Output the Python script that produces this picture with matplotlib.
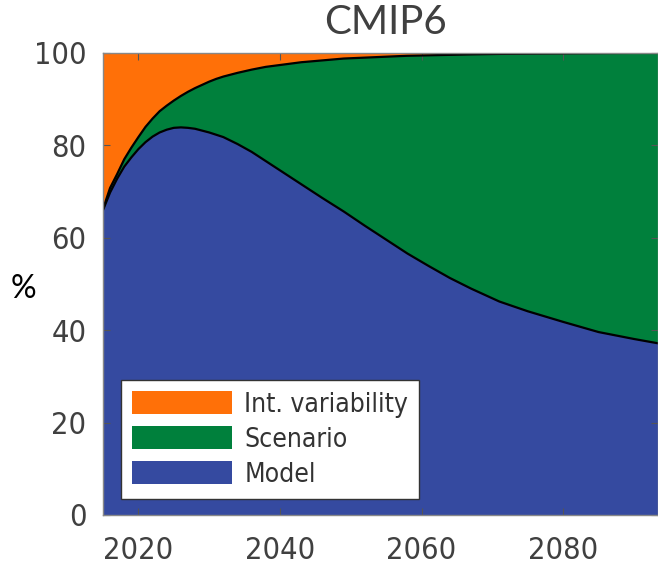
import matplotlib
matplotlib.use("Agg")
import matplotlib.pyplot as plt
from matplotlib.patches import Patch
from matplotlib.font_manager import FontProperties
import numpy as np

# values (percent of total uncertainty)
years = [2015, 2016, 2017, 2018, 2019, 2020, 2021, 2022, 2023, 2024, 2025,
         2026, 2027, 2028, 2029, 2030, 2031, 2032, 2034, 2036, 2038, 2040,
         2043, 2046, 2049, 2052, 2055, 2058, 2061, 2064, 2067, 2071, 2075,
         2080, 2085, 2090, 2094]
# top of the blue area
model = [66.0, 69.8, 72.8, 75.4, 77.4, 79.2, 80.7, 81.9, 82.8, 83.4, 83.8,
         83.9, 83.8, 83.6, 83.2, 82.8, 82.3, 81.8, 80.3, 78.6, 76.6, 74.6,
         71.6, 68.6, 65.7, 62.6, 59.6, 56.6, 53.9, 51.3, 49.0, 46.2, 44.1,
         41.8, 39.6, 38.1, 37.0]
# top of the green area
model_plus_scen = [66.2, 70.8, 73.8, 77.0, 79.5, 81.8, 84.0, 85.8, 87.4, 88.6, 89.7,
                   90.7, 91.6, 92.4, 93.1, 93.8, 94.4, 94.9, 95.7, 96.4, 97.0, 97.4,
                   98.0, 98.4, 98.8, 99.0, 99.2, 99.4, 99.5, 99.6, 99.7, 99.8, 99.85,
                   99.9, 99.95, 100.0, 100.0]

colors = ["#354AA0", "#00803C", "#FF7008"]   # model, scenario, int. variability

yrs = np.array(years)
m = np.array(model)
ms = np.array(model_plus_scen)
scen = ms - m
intvar = 100 - ms

fig = plt.figure(figsize=(6.58, 5.67), dpi=100)
ax = fig.add_axes([103/658, 1 - 515/567, 555/658, 462/567])

ax.stackplot(yrs, m, scen, intvar, colors=colors, linewidth=0)
ax.plot(yrs, m, color="black", lw=1.6)
ax.plot(yrs, ms, color="black", lw=1.6)

ax.set_xlim(2015, 2093.4)
ax.set_ylim(0, 100)
ax.set_xticks([2020, 2040, 2060, 2080])
ax.set_yticks([0, 20, 40, 60, 80, 100])

tick_fp = FontProperties(family="DejaVu Sans", stretch="condensed", size=22)
for lab in ax.get_xticklabels() + ax.get_yticklabels():
    lab.set_fontproperties(tick_fp)
    lab.set_color("#404040")
ax.tick_params(direction="in", length=5, width=0.8, color="#555555",
               top=True, right=True)
ax.tick_params(axis="x", pad=15)
ax.tick_params(axis="y", pad=12)
for s in ax.spines.values():
    s.set_color("#888888")
    s.set_linewidth(1.0)

handles = [Patch(facecolor=colors[2], edgecolor="none"),
           Patch(facecolor=colors[1], edgecolor="none"),
           Patch(facecolor=colors[0], edgecolor="none")]
leg = ax.legend(handles, ["Int. variability", "Scenario", "Model"],
                loc="upper left", bbox_to_anchor=(121/658, 1 - 380/567),
                bbox_transform=fig.transFigure,
                prop=FontProperties(family="DejaVu Sans", stretch="condensed", size=19),
                handlelength=3.8, handleheight=0.95, handletextpad=0.45,
                labelspacing=0.33, borderpad=0.42, borderaxespad=0,
                frameon=True, fancybox=False, framealpha=1)
leg.get_frame().set_edgecolor("#333333")
leg.get_frame().set_linewidth(1.0)
for t in leg.get_texts():
    t.set_color("#333333")

fig.text(385/658, 1 - 23/567, "CMIP6", ha="center", va="center",
         fontsize=29, color="#404040", family="Lato")
fig.text(23/658, 1 - 289/567, "%", ha="center", va="center",
         fontsize=23, color="black", family="Lato")

fig.savefig("out.png", dpi=100)
